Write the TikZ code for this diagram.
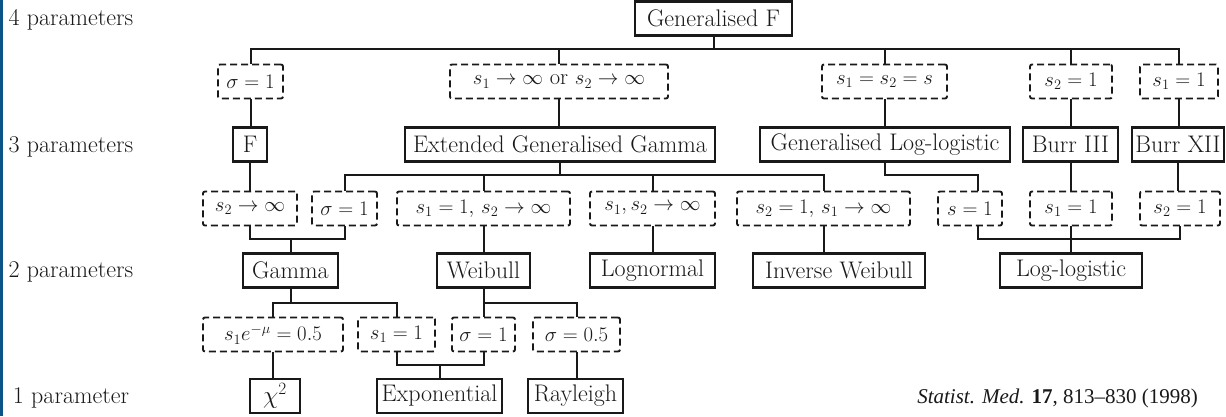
\documentclass[tikz,border=0pt]{standalone}
\usepackage{fontspec}
\newfontfamily\timesf{Liberation Serif}[Ligatures=TeX]
\definecolor{stripblue}{RGB}{12,84,136}
\definecolor{ink}{RGB}{25,25,25}
\begin{document}
\begin{tikzpicture}[x=1pt,y=-1pt,
  every node/.style={font=\fontsize{24}{28}\selectfont, inner sep=0pt, text=ink},
  sbox/.style={draw=ink, line width=2.2pt, minimum height=34pt},
  dbox/.style={draw=ink, line width=1.9pt, dash pattern=on 7pt off 4pt, rounded corners=2pt, minimum height=34pt, font=\fontsize{22.5}{27}\selectfont},
  conn/.style={draw=ink, line width=2pt},
  lab/.style={anchor=center}]
\fill[white] (0,0) rectangle (1226,416);
\fill[stripblue] (0,0) rectangle (3,416);
\useasboundingbox (0,0) rectangle (1226,416);

% row labels
\node[lab] (l4) at (71,20) {4 parameters};
\node[lab] (l3) at (71,147) {3 parameters};
\node[lab] (l2) at (71,272) {2 parameters};
\node[lab] (l1) at (71,398) {1 parameter};

% row 0
\node[sbox, minimum width=157pt] (genF) at (713.5,18.5) {Generalised F};

% row 1
\node[dbox, minimum width=65pt] (a1) at (250.5,81.5) {$\sigma=1$};
\node[dbox, minimum width=218pt] (a2) at (559,81.5) {$s_1\to\infty$ or $s_2\to\infty$};
\node[dbox, minimum width=125pt] (a3) at (884.5,81.5) {$s_1=s_2=s$};
\node[dbox, minimum width=82pt] (a4) at (1071,81.5) {$s_2=1$};
\node[dbox, minimum width=78pt] (a5) at (1179,81.5) {$s_1=1$};

% row 2
\node[sbox, minimum width=34pt] (F) at (250,144.5) {F};
\node[sbox, minimum width=310pt] (egg) at (560,144.5) {Extended Generalised Gamma};
\node[sbox, minimum width=250pt] (gll) at (885,144.5) {Generalised Log-logistic};
\node[sbox, minimum width=95pt] (b3) at (1070.5,144.5) {Burr III};
\node[sbox, minimum width=92pt] (b12) at (1178,144.5) {Burr XII};

% row 3
\node[dbox, minimum width=94pt] (c1) at (250,208.5) {$s_2\to\infty$};
\node[dbox, minimum width=65pt] (c2) at (344.5,208.5) {$\sigma=1$};
\node[dbox, minimum width=173pt] (c3) at (483.5,208.5) {$s_1=1,\,s_2\to\infty$};
\node[dbox, minimum width=125pt] (c4) at (652.5,208.5) {$s_1,s_2\to\infty$};
\node[dbox, minimum width=173pt] (c5) at (823.5,208.5) {$s_2=1,\,s_1\to\infty$};
\node[dbox, minimum width=64pt] (c6) at (970,208.5) {$s=1$};
\node[dbox, minimum width=82pt] (c7) at (1071,208.5) {$s_1=1$};
\node[dbox, minimum width=80pt] (c8) at (1180,208.5) {$s_2=1$};

% row 4
\node[sbox, minimum width=95pt] (gamma) at (290.5,270.5) {Gamma};
\node[sbox, minimum width=93pt] (weib) at (483.5,270.5) {Weibull};
\node[sbox, minimum width=125pt] (lnorm) at (652.5,270.5) {Lognormal};
\node[sbox, minimum width=172pt] (invw) at (839,270.5) {Inverse Weibull};
\node[sbox, minimum width=142pt] (llog) at (1071,270.5) {Log-logistic};

% row 5
\node[dbox, minimum width=140pt] (e1) at (273,334.5) {$s_1e^{-\mu}=0.5$};
\node[dbox, minimum width=77pt] (e2) at (396.5,334.5) {$s_1=1$};
\node[dbox, minimum width=63pt] (e3) at (483.5,334.5) {$\sigma=1$};
\node[dbox, minimum width=87pt] (e4) at (576.5,334.5) {$\sigma=0.5$};

% row 6
\node[sbox, minimum width=50pt] (chi) at (275,396) {$\chi^2$};
\node[sbox, minimum width=125pt] (expo) at (439.5,396) {Exponential};
\node[sbox, minimum width=95pt] (ray) at (575.5,396) {Rayleigh};

% citation
\node[font=\timesf\fontsize{21}{25}\selectfont, anchor=east] (cite) at (1198,398) {\textit{Statist. Med.} \textbf{17}, 813\textendash 830 (1998)};

% bus levels
\coordinate (bus1) at (0,49);
\coordinate (bus2) at (0,175);
\coordinate (bus3) at (0,239);
\coordinate (bus4) at (0,303);
\coordinate (bus5) at (0,365);

% row0 -> row1
\draw[conn] (genF.south) -- (genF.south |- bus1);
\draw[conn] (a1.north) |- (a5.north |- bus1) -- (a5.north);
\draw[conn] (a2.north) -- (a2.north |- bus1);
\draw[conn] (a3.north) -- (a3.north |- bus1);
\draw[conn] (a4.north) -- (a4.north |- bus1);

% row1 -> row2
\draw[conn] (a1.south) -- (a1.south |- F.north);
\draw[conn] (a2.south) -- (a2.south |- egg.north);
\draw[conn] (a3.south) -- (a3.south |- gll.north);
\draw[conn] (a4.south) -- (a4.south |- b3.north);
\draw[conn] (a5.south) -- (a5.south |- b12.north);

% row2 -> row3
\draw[conn] (F.south) -- (c1.north);
\draw[conn] (egg.south) -- (egg.south |- bus2);
\draw[conn] (c2.north) |- (c5.north |- bus2) -- (c5.north);
\draw[conn] (c3.north) -- (c3.north |- bus2);
\draw[conn] (c4.north) -- (c4.north |- bus2);
\draw[conn] (gll.south) |- ([xshift=8pt]c6.north |- bus2) -- ([xshift=8pt]c6.north);
\draw[conn] (b3.south) -- (b3.south |- c7.north);
\draw[conn] (b12.south) -- (b12.south |- c8.north);

% row3 -> row4
\draw[conn] (c1.south) |- (c2.south |- bus3) -- (c2.south);
\draw[conn] (gamma.north) -- (gamma.north |- bus3);
\draw[conn] (c3.south) -- (weib.north);
\draw[conn] (c4.south) -- (lnorm.north);
\draw[conn] (c5.south) -- (c5.south |- invw.north);
\draw[conn] ([xshift=8pt]c6.south) |- (c8.south |- bus3) -- (c8.south);
\draw[conn] (c7.south) -- (c7.south |- llog.north);

% row4 -> row5
\draw[conn] (gamma.south) -- (gamma.south |- bus4);
\draw[conn] (e1.north) |- (e2.north |- bus4) -- (e2.north);
\draw[conn] (weib.south) -- (e3.north);
\draw[conn] (e3.north |- bus4) -| (e4.north);

% row5 -> row6
\draw[conn] (e1.south) -- (e1.south |- chi.north);
\draw[conn] (e2.south) |- (e3.south |- bus5) -- (e3.south);
\draw[conn] (expo.north) -- (expo.north |- bus5);
\draw[conn] (e4.south) -- (e4.south |- ray.north);
\end{tikzpicture}
\end{document}
